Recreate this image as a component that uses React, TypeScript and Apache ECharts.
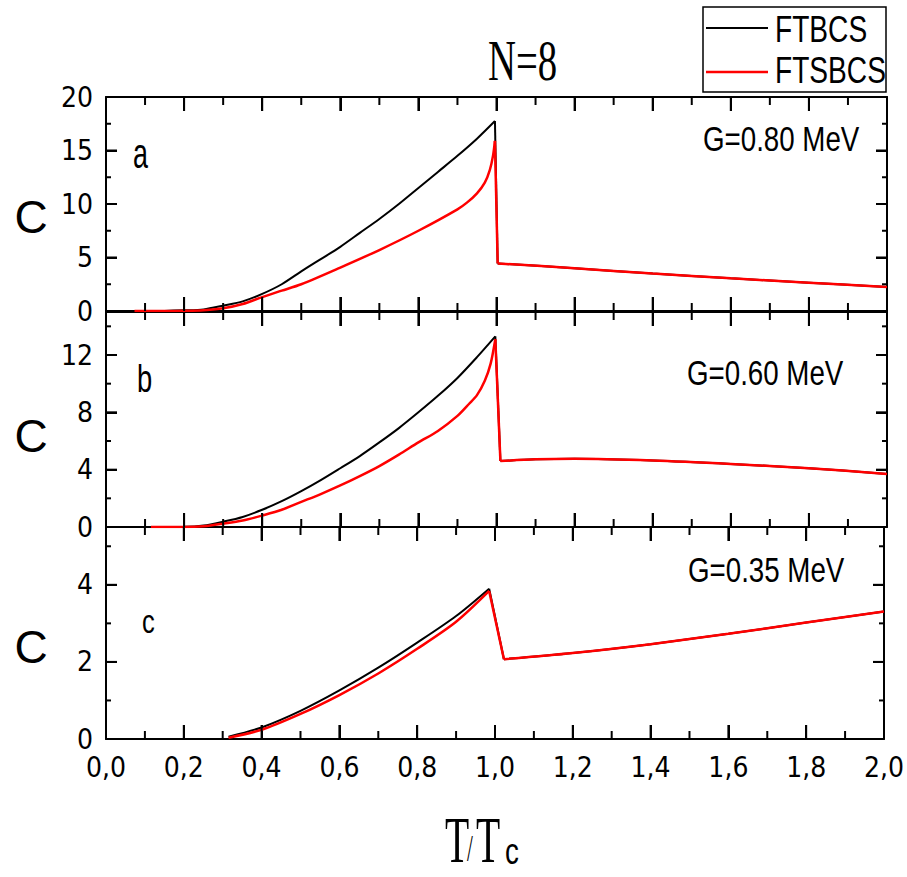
import { useEffect, useRef } from "react";
import * as echarts from "echarts";

// ---------- data ----------
const xTickLabels = ["0,0", "0,2", "0,4", "0,6", "0,8", "1,0", "1,2", "1,4", "1,6", "1,8", "2,0"];
const xMajorTicks = [0, 0.2, 0.4, 0.6, 0.8, 1.0, 1.2, 1.4, 1.6, 1.8, 2.0];
const xMinorTicks = [0.1, 0.3, 0.5, 0.7, 0.9, 1.1, 1.3, 1.5, 1.7, 1.9];
const seriesNames = ["FTBCS", "FTSBCS"];
const panelLetters = ["a", "b", "c"];
const panelCouplings = ["G=0.80 MeV", "G=0.60 MeV", "G=0.35 MeV"];

// panel a (G = 0.80 MeV)
const aX_FTBCS = [0.073, 0.15, 0.2, 0.25, 0.3, 0.35, 0.4, 0.45, 0.5, 0.55, 0.6, 0.65, 0.7, 0.75, 0.8, 0.85, 0.9, 0.95, 0.996, 1.003, 1.2, 1.4, 1.6, 1.8, 2.0];
const aY_FTBCS = [0, 0.01, 0.06, 0.15, 0.5, 0.9, 1.6, 2.5, 3.7, 4.85, 6.0, 7.3, 8.6, 10.0, 11.5, 13.0, 14.5, 16.1, 17.75, 4.45, 4.0, 3.5, 3.05, 2.65, 2.25];
const aX_FTSBCS = [0.073, 0.15, 0.2, 0.25, 0.3, 0.35, 0.4, 0.45, 0.5, 0.6, 0.7, 0.8, 0.9, 0.925, 0.95, 0.97, 0.983, 0.991, 0.996, 1.003, 1.2, 1.4, 1.6, 1.8, 2.0];
const aY_FTSBCS = [0, 0, 0.02, 0.08, 0.25, 0.65, 1.3, 1.9, 2.5, 4.06, 5.7, 7.5, 9.5, 10.15, 11.0, 12.0, 13.2, 14.5, 15.9, 4.45, 4.0, 3.5, 3.05, 2.65, 2.25];

// panel b (G = 0.60 MeV)
const bX_FTBCS = [0.115, 0.2, 0.25, 0.3, 0.35, 0.4, 0.45, 0.5, 0.55, 0.6, 0.65, 0.7, 0.75, 0.8, 0.85, 0.9, 0.95, 0.997, 1.01, 1.1, 1.2, 1.4, 1.6, 1.8, 2.0];
const bY_FTBCS = [0, 0.01, 0.1, 0.37, 0.7, 1.2, 1.8, 2.5, 3.27, 4.1, 4.95, 5.9, 6.9, 8.0, 9.15, 10.4, 11.85, 13.3, 4.6, 4.72, 4.76, 4.64, 4.4, 4.1, 3.7];
const bX_FTSBCS = [0.115, 0.2, 0.25, 0.3, 0.35, 0.4, 0.45, 0.5, 0.55, 0.6, 0.65, 0.7, 0.75, 0.8, 0.85, 0.9, 0.93, 0.95, 0.97, 0.985, 0.997, 1.01, 1.1, 1.2, 1.4, 1.6, 1.8, 2.0];
const bY_FTSBCS = [0, 0, 0.05, 0.23, 0.45, 0.8, 1.2, 1.75, 2.3, 2.9, 3.55, 4.25, 5.05, 5.9, 6.7, 7.75, 8.6, 9.2, 10.2, 11.4, 13.1, 4.6, 4.72, 4.76, 4.64, 4.4, 4.1, 3.7];

// panel c (G = 0.35 MeV)
const cX_FTBCS = [0.315, 0.4, 0.5, 0.6, 0.7, 0.8, 0.9, 0.985, 1.023, 1.2, 1.4, 1.6, 1.8, 2.0];
const cY_FTBCS = [0.06, 0.3, 0.73, 1.26, 1.85, 2.5, 3.19, 3.9, 2.07, 2.23, 2.46, 2.73, 3.02, 3.31];
const cX_FTSBCS = [0.315, 0.4, 0.5, 0.6, 0.7, 0.8, 0.9, 0.985, 1.023, 1.2, 1.4, 1.6, 1.8, 2.0];
const cY_FTSBCS = [0.035, 0.24, 0.65, 1.14, 1.7, 2.34, 3.04, 3.84, 2.07, 2.23, 2.46, 2.73, 3.02, 3.31];

// y-axis ranges and ticks per panel
const yMin = [0, 0, 0];
const yMax = [20, 15, 5.5];
const yInterval = [5, 4, 2];
const aYMajorTicks = [0, 5, 10, 15, 20];
const aYMinorTicks = [2.5, 7.5, 12.5, 17.5];
const bYMajorTicks = [0, 4, 8, 12];
const bYMinorTicks = [2, 6, 10, 14];
const cYMajorTicks = [0, 2, 4];
const cYMinorTicks = [1, 3, 5];

// ---------- styles ----------
const SANS = "Liberation Sans, Arial, sans-serif";
const NARROW = "Liberation Sans Narrow, Arial Narrow, DejaVu Sans Condensed, sans-serif";
const SERIF = "Liberation Serif, Times New Roman, serif";
const COLORS = ["#000000", "#ff0000"];

const zip = (xs: number[], ys: number[]) => xs.map((x, i) => [x, ys[i]]);

const grids = [
  { left: 106, top: 97, width: 781, height: 214 },
  { left: 106, top: 312, width: 781, height: 215 },
  { left: 106, top: 527, width: 781, height: 212 },
];

function txt(text: string, x: number, y: number, fontSize: number, fontFamily: string, scaleX: number, align = "left") {
  return {
    type: "text",
    x,
    y,
    scaleX,
    z: 10,
    style: { text, fontSize, fontFamily, fill: "#000", align, verticalAlign: "middle" },
  };
}

function seg(x1: number, y1: number, x2: number, y2: number) {
  return { type: "line", z: 10, shape: { x1, y1, x2, y2 }, style: { stroke: "#000", lineWidth: 2 } };
}

export default function App() {
  const ref = useRef<HTMLDivElement>(null);

  useEffect(() => {
    if (!ref.current) return;
    const chart = echarts.init(ref.current, null, { renderer: "svg" });

    const panelData = [
      [zip(aX_FTBCS, aY_FTBCS), zip(aX_FTSBCS, aY_FTSBCS)],
      [zip(bX_FTBCS, bY_FTBCS), zip(bX_FTSBCS, bY_FTSBCS)],
      [zip(cX_FTBCS, cY_FTBCS), zip(cX_FTSBCS, cY_FTSBCS)],
    ];
    const yMajorTicks = [aYMajorTicks, bYMajorTicks, cYMajorTicks];
    const yMinorTicks = [aYMinorTicks, bYMinorTicks, cYMinorTicks];

    const grid: any[] = [];
    const xAxis: any[] = [];
    const yAxis: any[] = [];
    const series: any[] = [];

    grids.forEach((g, i) => {
      grid.push({ ...g });
      ["bottom", "top"].forEach((pos) => {
        xAxis.push({
          type: "value",
          gridIndex: i,
          position: pos,
          min: 0,
          max: 2,
          interval: 0.2,
          axisLine: { show: true, onZero: false, lineStyle: { color: "#000", width: 2 } },
          axisTick: { show: true, inside: true, length: 14, lineStyle: { color: "#000", width: 2 } },
          splitLine: { show: false },
          axisLabel: {
            show: i === 2 && pos === "bottom",
            margin: 14,
            fontSize: 28,
            fontFamily: NARROW,
            color: "#000",
            formatter: (v: number) => xTickLabels[Math.round(v / 0.2)] ?? "",
          },
        });
      });
      ["left", "right"].forEach((pos) => {
        yAxis.push({
          type: "value",
          gridIndex: i,
          position: pos,
          min: yMin[i],
          max: yMax[i],
          interval: yInterval[i],
          axisLine: { show: true, onZero: false, lineStyle: { color: "#000", width: 2 } },
          axisTick: { show: true, inside: true, length: 11, lineStyle: { color: "#000", width: 2 } },
          splitLine: { show: false },
          axisLabel: {
            show: pos === "left",
            margin: 13,
            fontSize: 28,
            fontFamily: NARROW,
            color: "#000",
            formatter: (v: number) => (yMajorTicks[i].indexOf(v) >= 0 ? String(v) : ""),
          },
        });
      });

      // curves: rising part (smooth), drop at Tc (straight), tail (smooth)
      panelData[i].forEach((d, k) => {
        let peak = 0;
        d.forEach((p, j) => {
          if (p[1] > d[peak][1]) peak = j;
        });
        const parts = [
          { data: d.slice(0, peak + 1), smooth: 0.3 },
          { data: d.slice(peak, peak + 2), smooth: false },
          { data: d.slice(peak + 1), smooth: 0.3 },
        ];
        parts.forEach((part) => {
          series.push({
            type: "line",
            name: seriesNames[k],
            xAxisIndex: 2 * i,
            yAxisIndex: 2 * i,
            data: part.data,
            showSymbol: false,
            smooth: part.smooth,
            lineStyle: { color: COLORS[k], width: k === 0 ? 2 : 2.5 },
          });
        });
      });

      // minor ticks on all four sides, drawn through the panel's scales
      series.push({
        type: "custom",
        xAxisIndex: 2 * i,
        yAxisIndex: 2 * i,
        clip: false,
        z: 6,
        data: [...xMinorTicks.map((v) => [v, yMin[i], 0]), ...yMinorTicks[i].map((v) => [0, v, 1])],
        renderItem: (_p: any, api: any) => {
          const kind = api.value(2);
          if (kind === 0) {
            const v = api.value(0);
            const b = api.coord([v, yMin[i]]);
            const t = api.coord([v, yMax[i]]);
            return {
              type: "group",
              children: [
                { type: "line", shape: { x1: b[0], y1: b[1], x2: b[0], y2: b[1] - 8 }, style: { stroke: "#000", lineWidth: 2 } },
                { type: "line", shape: { x1: t[0], y1: t[1], x2: t[0], y2: t[1] + 8 }, style: { stroke: "#000", lineWidth: 2 } },
              ],
            };
          }
          const v = api.value(1);
          const l = api.coord([0, v]);
          const r = api.coord([2, v]);
          return {
            type: "group",
            children: [
              { type: "line", shape: { x1: l[0], y1: l[1], x2: l[0] + 5, y2: l[1] }, style: { stroke: "#000", lineWidth: 2 } },
              { type: "line", shape: { x1: r[0], y1: r[1], x2: r[0] - 5, y2: r[1] }, style: { stroke: "#000", lineWidth: 2 } },
            ],
          };
        },
      });
    });

    chart.setOption({
      animation: false,
      backgroundColor: "#fff",
      grid,
      xAxis,
      yAxis,
      series,
    });

    const cY = [217, 436, 647];
    const letterPos = [
      [133, 153, 42, 0.64],
      [137, 379, 38, 0.72],
      [142, 621, 34, 0.75],
    ];
    const gPos = [
      [703, 139],
      [687, 373],
      [688, 570],
    ];

    const graphic: any[] = [
      {
        type: "rect",
        z: 9,
        shape: { x: 703, y: 7, width: 183, height: 85 },
        style: { fill: "#fff", stroke: "#000", lineWidth: 1.5 },
      },
      { type: "line", z: 10, shape: { x1: 706, y1: 28, x2: 768, y2: 28 }, style: { stroke: COLORS[0], lineWidth: 2 } },
      { type: "line", z: 10, shape: { x1: 706, y1: 72, x2: 768, y2: 72 }, style: { stroke: COLORS[1], lineWidth: 2.5 } },
      txt(seriesNames[0], 775, 29, 37, SANS, 0.76),
      txt(seriesNames[1], 775, 70, 37, SANS, 0.76),
      txt("N=8", 488, 61, 57, SERIF, 0.68),
      txt("T", 445, 840, 66, SERIF, 0.6),
      txt("/", 467, 849, 38, SERIF, 0.55),
      txt("T", 476, 840, 66, SERIF, 0.6),
      txt("c", 505, 851, 37, SANS, 0.75),
    ];
    for (let i = 0; i < 3; i++) {
      graphic.push(txt("C", 31, cY[i], 46, SANS, 1, "center"));
      const [lx, ly, lf, ls] = letterPos[i];
      graphic.push(txt(panelLetters[i], lx, ly, lf, SANS, ls));
      graphic.push(txt(panelCouplings[i], gPos[i][0], gPos[i][1], 36, SANS, 0.77));
    }

    // major ticks also placed from the library's own pixel conversion
    for (let i = 0; i < 3; i++) {
      const finder = { xAxisIndex: 2 * i, yAxisIndex: 2 * i } as any;
      const px = (v: number[]) => {
        const p = chart.convertToPixel(finder, v) as any;
        return Array.isArray(p) && isFinite(p[0]) && isFinite(p[1]) ? (p as number[]) : null;
      };
      xMajorTicks.forEach((v) => {
        const b = px([v, yMin[i]]);
        const t = px([v, yMax[i]]);
        if (b) graphic.push(seg(b[0], b[1], b[0], b[1] - 14));
        if (t) graphic.push(seg(t[0], t[1], t[0], t[1] + 14));
      });
      yMajorTicks[i].forEach((v) => {
        const l = px([0, v]);
        const r = px([2, v]);
        if (l) graphic.push(seg(l[0], l[1], l[0] + 11, l[1]));
        if (r) graphic.push(seg(r[0], r[1], r[0] - 11, r[1]));
      });
    }

    chart.setOption({ graphic });

    return () => chart.dispose();
  }, []);

  return (
    <div
      ref={ref}
      style={{ position: "absolute", left: 0, top: 0, width: 907, height: 877, background: "#fff" }}
    />
  );
}
